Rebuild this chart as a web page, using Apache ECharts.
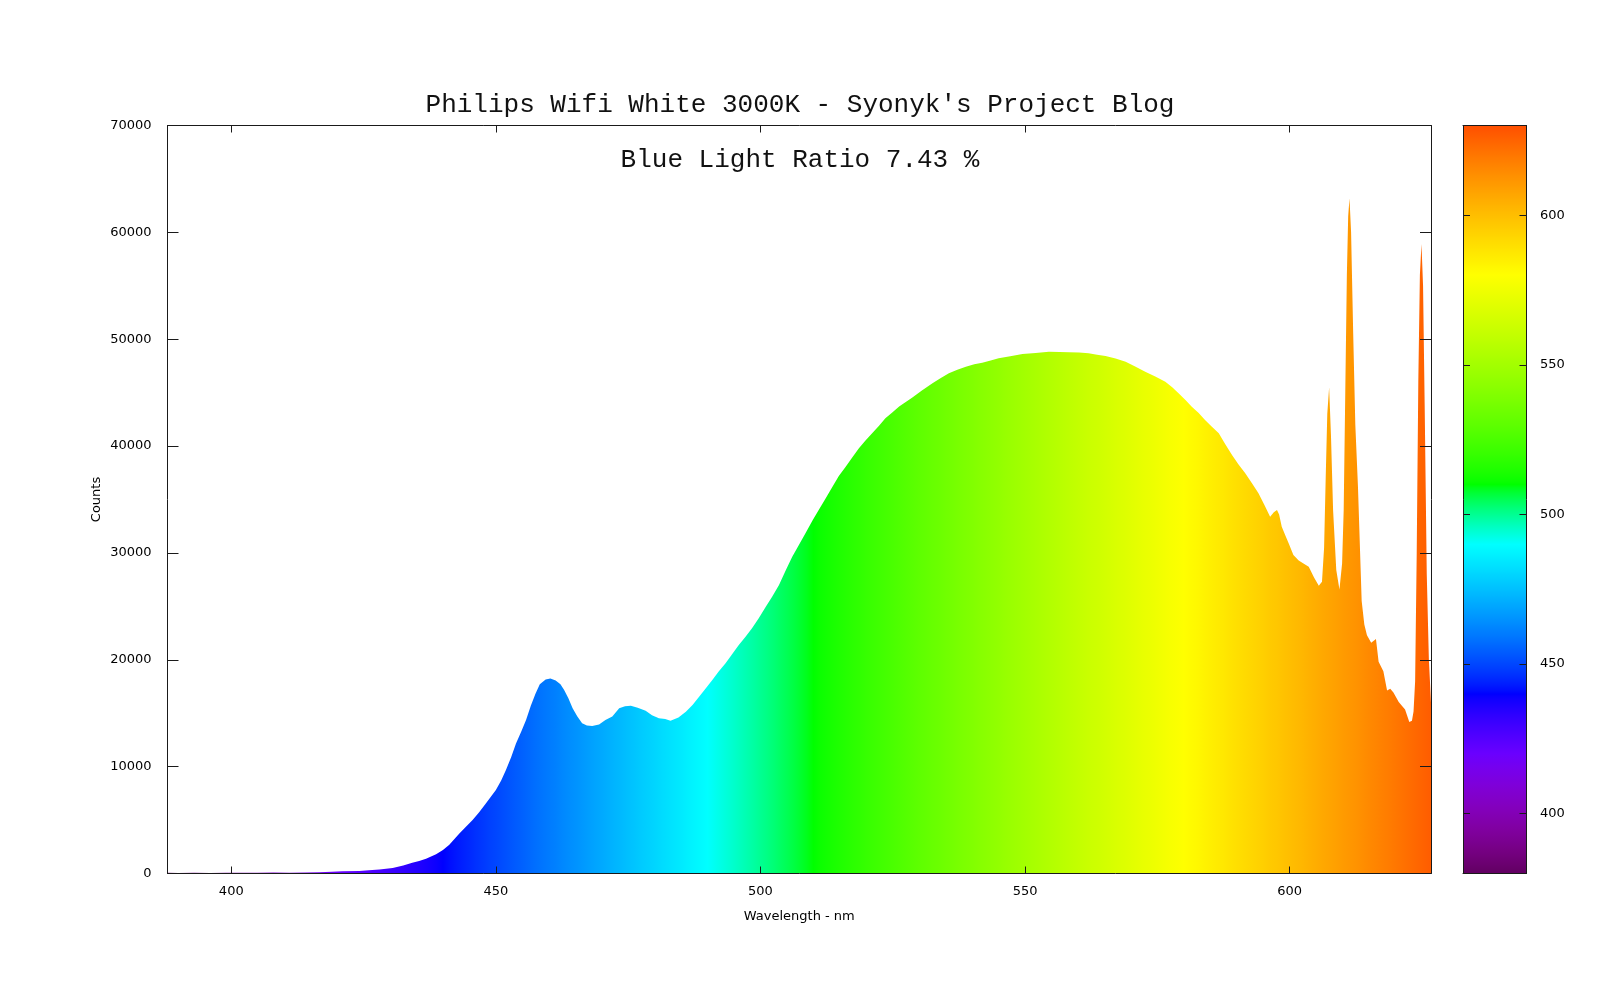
<!DOCTYPE html>
<html><head><meta charset="utf-8">
<script src="https://cdn.jsdelivr.net/npm/echarts@6/dist/echarts.min.js"></script>
<style>html,body{margin:0;padding:0;background:#fff}#c{width:1600px;height:1000px}</style>
</head><body><div id="c"></div>
<script>
const titleText = "Philips Wifi White 3000K - Syonyk's Project Blog";
const subtitleText = "Blue Light Ratio 7.43 %";
const xAxisName = "Wavelength - nm";
const yAxisName = "Counts";

const wavelengths = [
388,390,393,396,399,402,405,408,411,414,416.6,419,421,424.2,426,428,430.5,432.5,434.2,435.5,
436.8,438.7,440,441.2,443.1,444.3,445.6,446.8,448.1,450.0,451.0,451.9,452.9,453.8,454.8,455.7,456.6,457.5,458.3,459.4,
460.3,461.3,462.2,462.9,463.7,464.5,465.4,466.3,467.2,468.2,469.5,470.7,472.0,473.3,474.4,475.5,476.8,478.3,479.5,480.8,
482.0,483.0,484.5,485.9,487.2,488.4,489.6,490.9,492.1,493.4,494.6,495.9,497.1,498.4,499.7,501.0,502.2,503.5,504.8,506.0,
507.2,508.5,509.8,511.0,512.3,513.6,514.8,516.1,517.3,518.6,519.8,521.1,522.4,523.6,524.9,526.2,528.7,530.5,532.5,534.0,
535.6,537.2,538.8,540.4,541.9,543.5,545.0,547.2,549.5,552.0,554.5,556.5,558.3,560.2,562.0,563.6,565.2,567.1,569.0,570.8,
572.7,574.6,576.5,577.8,579.0,580.3,581.5,582.8,584.0,585.3,586.6,587.8,589.1,590.3,591.6,592.9,594.1,595.2,596.3,597.0,
597.6,598.0,598.5,599.2,599.8,600.7,601.7,602.6,603.6,604.6,605.5,606.1,606.5,606.8,607.1,607.45,607.8,608.2,608.8,609.4,
609.9,610.2,610.5,610.8,611.05,611.3,611.6,612.0,612.4,612.9,613.6,614.1,614.6,615.4,616.3,616.8,617.7,618.4,619.0,619.6,
620.6,621.8,622.6,623.1,623.4,623.7,624.0,624.3,624.6,624.9,625.2,625.5,625.9,626.3,626.7
];
const counts = [
60,50,70,40,60,80,70,90,80,100,110,160,200,230,300,380,520,750,1000,1180,
1380,1800,2200,2700,3740,4350,5000,5700,6550,7810,8700,9690,10900,12170,13300,14360,15700,16840,17700,18150,
18250,18060,17700,17170,16400,15460,14700,14050,13850,13800,13950,14360,14700,15460,15650,15700,15500,15240,14800,14520,
14450,14300,14600,15140,15800,16550,17300,18110,18900,19670,20500,21380,22100,22950,23900,24970,25900,27000,28400,29650,
30700,31840,33000,34020,35100,36200,37200,38070,38900,39790,40500,41190,41900,42600,43150,43700,44550,45200,45870,46350,
46810,47150,47430,47650,47800,48000,48210,48400,48620,48700,48830,48800,48770,48750,48680,48550,48430,48200,47900,47450,
46960,46500,46020,45500,44940,44300,43680,43100,42440,41800,41190,40200,39160,38300,37450,36500,35580,34500,33390,33800,
34020,33600,32450,31600,30900,29800,29300,29000,28700,27700,26940,27300,30500,37000,43000,45500,41000,34000,28400,26580,
29000,34000,45000,56000,61500,63200,60000,50500,42000,36200,25500,23300,22300,21590,21950,19810,18920,17130,17300,16950,
16060,15350,14170,14300,15170,18000,30000,46000,56000,58900,55000,44000,28000,20000,16000
];

const xRange = [387.95, 626.7];
const yRange = [0, 70000];
const yStep = 10000;
const xTicks = [400, 450, 500, 550, 600];
const cbRange = [380, 630];
const cbTicks = [400, 450, 500, 550, 600];

// Spectral palette (wavelength -> RGB)
function specColor(w) {
  let r = 0, g = 0, b = 0;
  if (w < 440) { r = -(w - 440) / 60; b = 1; }
  else if (w < 490) { g = (w - 440) / 50; b = 1; }
  else if (w < 510) { g = 1; b = -(w - 510) / 20; }
  else if (w < 580) { r = (w - 510) / 70; g = 1; }
  else if (w < 645) { r = 1; g = -(w - 645) / 65; }
  else { r = 1; }
  let f = 1;
  if (w < 420) f = 0.3 + 0.7 * (w - 380) / 40;
  const gam = 0.8;
  const c = v => v <= 0 ? 0 : Math.round(255 * Math.pow(v * f, gam));
  return 'rgb(' + c(r) + ',' + c(g) + ',' + c(b) + ')';
}
const palette = [];
for (let w = cbRange[0]; w <= cbRange[1]; w++) palette.push(specColor(w));
const cbStops = palette.map((c, i) => ({ offset: i / (palette.length - 1), color: c }));

const FONT = 'DejaVu Sans';
const MONO = "'Courier New', 'Liberation Mono', monospace";
const AX = '#1a1a1a';
const plain = v => String(v);

const chart = echarts.init(document.getElementById('c'), null, { renderer: 'canvas' });
chart.setOption({
  animation: false,
  backgroundColor: '#fff',
  title: [
    { text: titleText, left: 'center', top: 92, padding: 0,
      textStyle: { fontFamily: MONO, fontSize: 26, fontWeight: 'normal', color: '#111', lineHeight: 26 } },
    { text: subtitleText, left: 'center', top: 147, padding: 0,
      textStyle: { fontFamily: MONO, fontSize: 26, fontWeight: 'normal', color: '#111', lineHeight: 26 } }
  ],
  grid: [
    { left: 167.5, top: 125.5, width: 1263.5, height: 748 },
    { left: 1463, top: 125.5, width: 63.5, height: 748 }
  ],
  visualMap: {
    show: false, type: 'continuous', seriesIndex: 0, dimension: 0,
    min: cbRange[0], max: cbRange[1], inRange: { color: palette }
  },
  xAxis: [
    { type: 'value', gridIndex: 0, min: xRange[0], max: xRange[1], z: 10,
      name: xAxisName, nameLocation: 'middle', nameGap: 37,
      nameTextStyle: { fontFamily: FONT, fontSize: 13, color: '#000' },
      axisLine: { show: true, onZero: false, lineStyle: { color: AX, width: 1 } },
      axisTick: { show: true, inside: true, length: 7, customValues: xTicks, lineStyle: { color: AX } },
      axisLabel: { show: true, customValues: xTicks, margin: 12, fontFamily: FONT, fontSize: 13, color: '#000', formatter: plain },
      splitLine: { show: false } },
    { type: 'value', gridIndex: 0, position: 'top', min: xRange[0], max: xRange[1], z: 10,
      axisLine: { show: true, onZero: false, lineStyle: { color: AX, width: 1 } },
      axisTick: { show: true, inside: true, length: 7, customValues: xTicks, lineStyle: { color: AX } },
      axisLabel: { show: false }, splitLine: { show: false } },
    { type: 'category', gridIndex: 1, data: [''], position: 'bottom', z: 10,
      axisLine: { show: true, lineStyle: { color: AX, width: 1 } },
      axisTick: { show: false }, axisLabel: { show: false }, splitLine: { show: false } },
    { type: 'category', gridIndex: 1, data: [''], position: 'top', z: 10,
      axisLine: { show: true, lineStyle: { color: AX, width: 1 } },
      axisTick: { show: false }, axisLabel: { show: false }, splitLine: { show: false } }
  ],
  yAxis: [
    { type: 'value', gridIndex: 0, min: yRange[0], max: yRange[1], interval: yStep, z: 10,
      name: yAxisName, nameLocation: 'middle', nameGap: 64, nameMoveOverlap: false,
      nameTextStyle: { fontFamily: FONT, fontSize: 13, color: '#000' },
      axisLine: { show: true, onZero: false, lineStyle: { color: AX, width: 1 } },
      axisTick: { show: true, inside: true, length: 11, lineStyle: { color: AX } },
      axisLabel: { show: true, margin: 16, fontFamily: FONT, fontSize: 13, color: '#000', formatter: plain },
      splitLine: { show: false } },
    { type: 'value', gridIndex: 0, position: 'right', min: yRange[0], max: yRange[1], interval: yStep, z: 10,
      axisLine: { show: true, onZero: false, lineStyle: { color: AX, width: 1 } },
      axisTick: { show: true, inside: true, length: 11, lineStyle: { color: AX } },
      axisLabel: { show: false }, splitLine: { show: false } },
    { type: 'value', gridIndex: 1, position: 'left', min: cbRange[0], max: cbRange[1], z: 10,
      axisLine: { show: true, onZero: false, lineStyle: { color: AX, width: 1 } },
      axisTick: { show: true, inside: true, length: 7, customValues: cbTicks, lineStyle: { color: AX } },
      axisLabel: { show: false }, splitLine: { show: false } },
    { type: 'value', gridIndex: 1, position: 'right', min: cbRange[0], max: cbRange[1], z: 10,
      axisLine: { show: true, onZero: false, lineStyle: { color: AX, width: 1 } },
      axisTick: { show: true, inside: true, length: 7, customValues: cbTicks, lineStyle: { color: AX } },
      axisLabel: { show: true, customValues: cbTicks, margin: 13.5, fontFamily: FONT, fontSize: 13, color: '#000', formatter: plain },
      splitLine: { show: false } }
  ],
  series: [
    { type: 'line', xAxisIndex: 0, yAxisIndex: 0, z: 1,
      data: wavelengths.map((w, i) => [w, counts[i]]),
      showSymbol: false, symbol: 'none', smooth: false, sampling: 'none',
      lineStyle: { width: 0 }, areaStyle: { opacity: 1 }, silent: true },
    { type: 'bar', xAxisIndex: 2, yAxisIndex: 2, stack: 'cb', barWidth: '100%', silent: true, z: 1,
      data: [cbRange[0]], itemStyle: { color: 'rgba(0,0,0,0)' } },
    { type: 'bar', xAxisIndex: 2, yAxisIndex: 2, stack: 'cb', barWidth: '100%', silent: true, z: 1,
      data: [cbRange[1] - cbRange[0]],
      itemStyle: { color: new echarts.graphic.LinearGradient(0, 1, 0, 0, cbStops) } }
  ]
});
</script>
</body></html>
